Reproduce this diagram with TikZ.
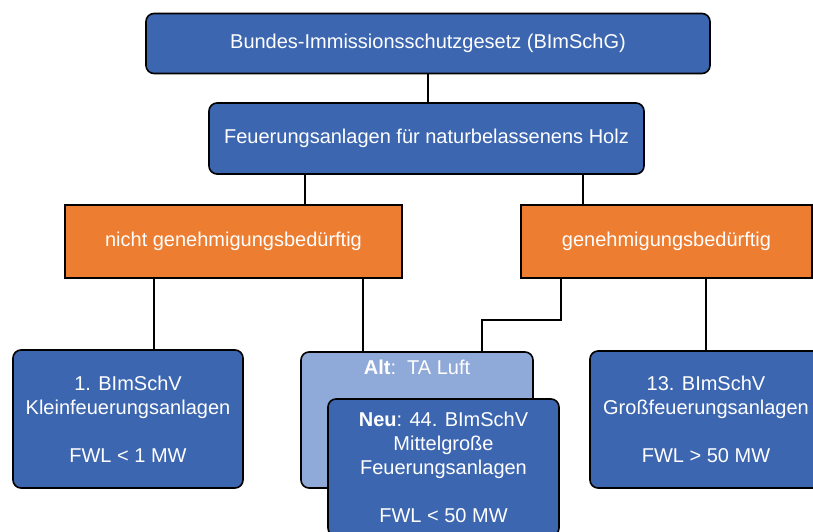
\documentclass[tikz,border=0pt]{standalone}
\usepackage{fontspec}
\setmainfont{Liberation Sans}
\usetikzlibrary{positioning}
\definecolor{LawBlue}{HTML}{3D66B0}
\definecolor{PaleBlue}{HTML}{8FA9D8}
\definecolor{PermitOrange}{HTML}{ED7D31}
\newcommand{\boxfont}{\fontsize{20}{24}\selectfont}

\begin{document}
\begin{tikzpicture}[
    x=1pt, y=-1pt,
    bluebox/.style={draw=black, line width=1.6pt, fill=LawBlue, rounded corners=8pt, inner sep=0pt, text=white, font=\boxfont, align=center},
    palebox/.style={bluebox, fill=PaleBlue},
    orangebox/.style={draw=black, line width=1.6pt, fill=PermitOrange, inner sep=0pt, text=white, font=\boxfont, align=center},
    boxtext/.style={inner sep=0pt, text=white, font=\boxfont, align=center},
    link/.style={draw=black, line width=1.6pt}
  ]
    \useasboundingbox (0,0) rectangle (813,531);
    \clip (0,0) rectangle (813,531);

    % law and scope
    \node[bluebox, minimum width=564pt, minimum height=60pt] (bimschg) at (428,43.5) {Bundes-Immissionsschutzgesetz (BImSchG)};
    \node[bluebox, minimum width=435pt, minimum height=71pt] (holz) at (426.5,138.5) {Feuerungsanlagen für naturbelassenens Holz};

    % permit yes / no
    \node[orangebox, minimum width=337pt, minimum height=73pt] (nicht) at (233.5,241.5) {nicht genehmigungsbedürftig};
    \node[orangebox, minimum width=291pt, minimum height=73pt] (genehm) at (666.5,241.5) {genehmigungsbedürftig};

    % ordinances
    \node[bluebox, minimum width=230pt, minimum height=138pt] (klein) at (128,419) {1. BImSchV\\Kleinfeuerungsanlagen\\[24pt]FWL < 1 MW};
    \node[palebox, minimum width=232pt, minimum height=136pt,
      label={[boxtext, yshift=53pt]center:{\textbf{Alt}:\ \ TA Luft}}] (alt) at (417,420) {};
    \node[bluebox, minimum width=231pt, minimum height=137pt] (neu) at (443.5,467.5) {\textbf{Neu}: 44. BImSchV\\Mittelgroße\\Feuerungsanlagen\\[24pt]FWL < 50 MW};
    \node[bluebox, minimum width=232pt, minimum height=137pt] (gross) at (706,419.5) {13. BImSchV\\Großfeuerungsanlagen\\[24pt]FWL > 50 MW};

    % connectors
    \draw[link] (bimschg.south) -- (bimschg.south |- holz.north);
    \foreach \x/\a/\b in {305/holz/nicht, 583/holz/genehm, 154/nicht/klein, 363/nicht/alt, 706/genehm/gross}
      \draw[link] (\a.south -| \x,0) -- (\b.north -| \x,0);
    \draw[link] (genehm.south -| 561,0) |- (482,320) -- (alt.north -| 482,0);
  \end{tikzpicture}
\end{document}
